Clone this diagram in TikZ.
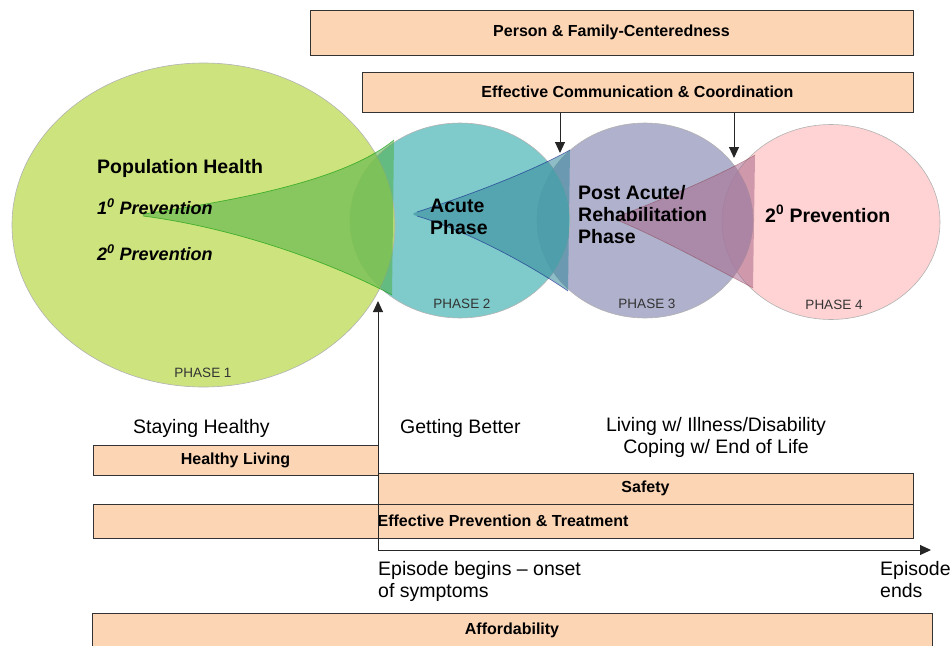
\documentclass[tikz,border=0pt]{standalone}
\usepackage{fontspec}
\setmainfont{Liberation Sans}
\usetikzlibrary{shapes.geometric,arrows.meta}

\definecolor{phaseone}{RGB}{193,221,94}
\definecolor{phasetwo}{RGB}{95,190,190}
\definecolor{phasethree}{RGB}{156,157,191}
\definecolor{phasefour}{RGB}{255,200,200}
\definecolor{funone}{RGB}{80,175,70}
\definecolor{funtwo}{RGB}{50,135,155}
\definecolor{funthree}{RGB}{169,105,140}
\definecolor{peach}{RGB}{252,213,181}

\tikzset{
	bar/.style={rectangle,draw=black!80,line width=1pt,fill=peach,inner sep=0pt,
		font=\fontsize{16}{19}\selectfont\bfseries},
	phase/.style={ellipse,draw=black!30,line width=0.6pt,fill opacity=0.8,inner sep=0pt},
	lbl/.style={inner sep=0pt,font=\fontsize{19.5}{22}\selectfont},
	blbl/.style={inner sep=0pt,font=\fontsize{19.5}{22}\selectfont\bfseries},
	tag/.style={inner sep=0pt,font=\fontsize{13.5}{16}\selectfont,text=black!80},
	pointer/.style={-{Triangle[length=11pt,width=10pt]},line width=1pt,draw=black!85},
}

\begin{document}
\begin{tikzpicture}[x=1pt,y=-1pt]
	\useasboundingbox (0,0) rectangle (950,645);
	% the four phases
	\node[phase,fill=phasefour,minimum width=218pt,minimum height=195pt] (ph4) at (831,222) {};
	\node[phase,fill=phasethree,minimum width=216pt,minimum height=195pt] (ph3) at (645,220.5) {};
	\node[phase,fill=phasetwo,minimum width=220pt,minimum height=195pt] (ph2) at (460,220.5) {};
	\node[phase,fill=phaseone,minimum width=383pt,minimum height=324pt] (ph1) at (203.5,225) {};
	% funnels
	\fill[funone,fill opacity=0.55] (143,214) .. controls (240,200) and (345,180) .. (394,140)
		-- (392,295) .. controls (330,262) and (235,228) .. (143,216) -- cycle;
	\draw[green!60!black,draw opacity=0.6,line width=0.7pt] (143,214) .. controls (240,200) and (345,180) .. (394,140);
	\draw[green!60!black,draw opacity=0.6,line width=0.7pt] (392,295) .. controls (330,262) and (235,228) .. (143,216);
	\fill[funtwo,fill opacity=0.55] (417,212) .. controls (470,195) and (530,172) .. (570,150)
		-- (568,291) .. controls (530,265) and (470,232) .. (417,216) .. controls (412,215) and (412,213) .. cycle;
	\draw[blue!50!black,draw opacity=0.5,line width=0.7pt] (417,212) .. controls (470,195) and (530,172) .. (570,150);
	\draw[blue!50!black,draw opacity=0.5,line width=0.7pt] (568,291) .. controls (530,265) and (470,232) .. (417,216);
	\fill[funthree,fill opacity=0.55] (617,217) .. controls (660,200) and (715,178) .. (755,155)
		-- (753,288) .. controls (715,268) and (660,238) .. (617,220) -- cycle;
	\draw[red!40!black,draw opacity=0.3,line width=0.6pt] (617,217) .. controls (660,200) and (715,178) .. (755,155);
	\draw[red!40!black,draw opacity=0.3,line width=0.6pt] (753,288) .. controls (715,268) and (660,238) .. (617,220);
	% phase texts
	\node[blbl,anchor=base west] (pophealth) at (97,173) {Population Health};
	\node[blbl,anchor=base west,font=\fontsize{18}{21}\selectfont\bfseries\itshape] (prevone) at (97,214) {1\textsuperscript{0} Prevention};
	\node[blbl,anchor=base west,font=\fontsize{18}{21}\selectfont\bfseries\itshape] (prevtwo) at (97,260) {2\textsuperscript{0} Prevention};
	\node[blbl,anchor=base west,align=left] (acute) at (430,234) {Acute\\Phase};
	\node[blbl,anchor=base west,align=left] (postacute) at (578,243) {Post Acute/\\Rehabilitation\\Phase};
	\node[blbl,anchor=base west] (prevfour) at (765,222) {2\textsuperscript{0} Prevention};
	\node[tag,anchor=base] (tagone) at (203,377) {PHASE 1};
	\node[tag,anchor=base] (tagtwo) at (462,308) {PHASE 2};
	\node[tag,anchor=base] (tagthree) at (647,308) {PHASE 3};
	\node[tag,anchor=base] (tagfour) at (834,309) {PHASE 4};
	% bars
	\node[bar,minimum width=603pt,minimum height=45pt] (pfc) at (611.5,32.5) {Person \& Family-Centeredness};
	\node[bar,minimum width=551pt,minimum height=40pt] (comm) at (637.5,92) {Effective Communication \& Coordination};
	\node[bar,minimum width=285pt,minimum height=30pt] (living) at (235.5,460) {Healthy Living};
	\node[bar,minimum width=535pt,minimum height=31pt] (safety) at (645.5,488.5) {Safety};
	\node[bar,minimum width=820pt,minimum height=34pt] (treat) at (503,521) {Effective Prevention \& Treatment};
	\node[bar,minimum width=840pt,minimum height=35pt] (afford) at (512,630.5) {Affordability};
	% outcomes
	\node[lbl,anchor=base west] (staying) at (133,433) {Staying Healthy};
	\node[lbl,anchor=base west] (better) at (400,433) {Getting Better};
	\node[lbl,anchor=base,align=center] (illness) at (716,453) {Living w/ Illness/Disability\\Coping w/ End of Life};
	\node[lbl,anchor=base west,align=left] (begins) at (378,597) {Episode begins -- onset\\of symptoms};
	\node[lbl,anchor=base west,align=left] (ends) at (880,597) {Episode\\ends};
	% episode axis and pointers
	\coordinate (onset) at (378,550);
	\coordinate (axisend) at (931,550);
	\coordinate (meetonetwo) at (378,301);
	\coordinate (meettwothree) at (560,153);
	\coordinate (meetthreefour) at (734,158);
	\draw[pointer] (onset) -- (meetonetwo);
	\draw[pointer] (onset) -- (axisend);
	\draw[pointer] (comm.south -| meettwothree) -- (meettwothree);
	\draw[pointer] (comm.south -| meetthreefour) -- (meetthreefour);
\end{tikzpicture}
\end{document}
